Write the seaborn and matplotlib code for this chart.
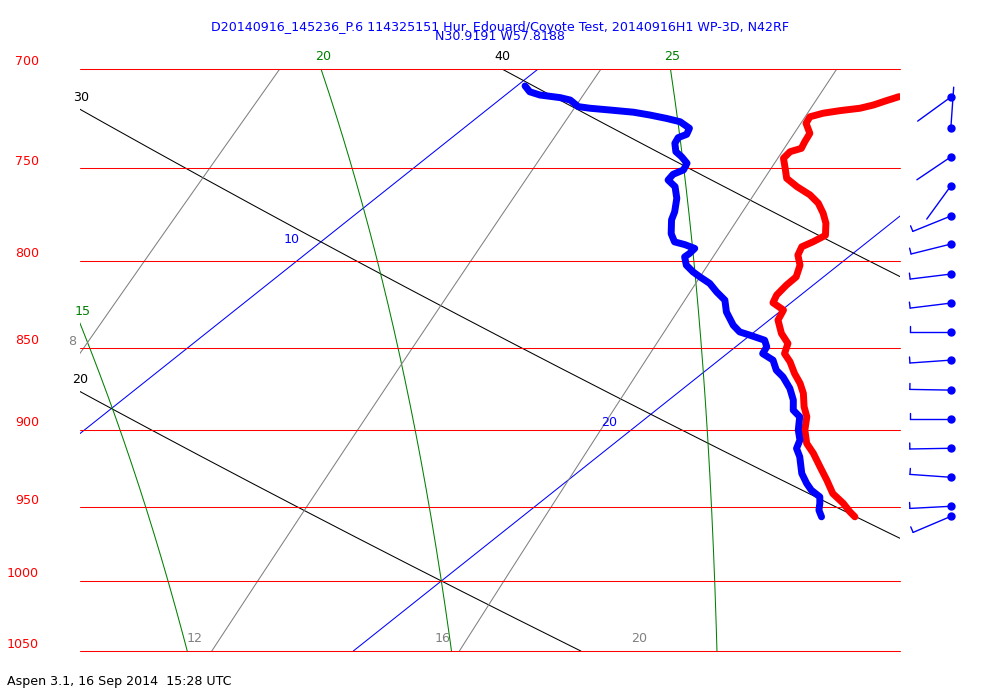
import numpy as np
import pandas as pd
import matplotlib
matplotlib.use("Agg")
import matplotlib.pyplot as plt
from matplotlib.transforms import IdentityTransform
import seaborn as sns

TITLE = "D20140916_145236_P.6 114325151 Hur. Edouard/Coyote Test, 20140916H1 WP-3D, N42RF"
SUBTITLE = "N30.9191 W57.8188"
FOOTER = "Aspen 3.1, 16 Sep 2014  15:28 UTC"

# temperature trace (red): pressure hPa, deg C
temp_p = [713.6, 715.6, 717.8, 719.4, 720.6, 721.9, 723.7, 727.0, 732.1, 736.4,
          739.8, 741.5, 744.9, 750.1, 755.4, 759.8, 764.2, 768.6, 774.0, 779.4,
          786.0, 789.6, 792.3, 796.9, 802.5, 809.1, 813.7, 819.4, 823.8, 828.0,
          833.8, 841.6, 847.5, 853.5, 858.4, 865.4, 871.4, 877.5, 885.7, 891.9,
          900.2, 908.6, 914.9, 923.5, 932.1, 940.9, 947.4, 952.9, 956.3]
temp_c = [17.24, 17.10, 16.96, 16.79, 16.48, 16.23, 16.07, 16.15, 16.45, 16.55,
          16.64, 16.51, 16.54, 16.80, 17.06, 17.44, 17.87, 18.21, 18.53, 18.81,
          19.08, 19.00, 18.91, 19.03, 19.30, 19.50, 19.51, 19.56, 19.67, 20.03,
          20.16, 20.53, 20.88, 21.05, 21.34, 21.69, 22.02, 22.31, 22.63, 22.91,
          23.18, 23.52, 23.87, 24.30, 24.73, 25.15, 25.57, 25.88, 26.09]

# dewpoint trace (blue)
dewp_p = [708.3, 711.2, 712.8, 714.1, 715.3, 718.6, 719.4, 720.3, 721.4, 722.8,
          724.5, 726.2, 729.5, 732.6, 734.3, 737.2, 741.5, 744.1, 747.5, 751.0,
          753.3, 756.3, 759.8, 766.0, 773.2, 777.6, 785.1, 789.6, 791.1, 793.2,
          796.0, 797.9, 802.5, 806.3, 809.1, 812.8, 817.6, 822.3, 829.1, 836.8,
          840.7, 842.6, 845.6, 849.5, 853.5, 857.4, 863.4, 867.5, 874.5, 881.6,
          887.8, 891.9, 900.2, 906.5, 911.8, 917.1, 927.8, 934.3, 938.7, 943.1,
          947.4, 951.9, 956.3]
dewp_c = [10.15, 10.37, 10.63, 11.06, 11.30, 11.60, 11.85, 12.26, 12.74, 13.10,
          13.48, 13.81, 14.13, 14.22, 14.14, 14.21, 14.42, 14.64, 14.89, 14.98,
          14.89, 14.93, 15.21, 15.51, 15.78, 15.91, 16.22, 16.47, 16.72, 16.99,
          17.01, 17.00, 17.22, 17.50, 17.74, 18.07, 18.39, 18.73, 19.03, 19.46,
          19.73, 19.99, 20.38, 20.57, 20.65, 20.99, 21.28, 21.56, 21.95, 22.28,
          22.51, 22.78, 23.06, 23.32, 23.45, 23.70, 24.12, 24.44, 24.68, 24.99,
          25.14, 25.28, 25.48]

# winds
wind_p = [713.8, 729.4, 744.2, 759.4, 775.5, 790.8, 807.5, 824.0, 840.8, 857.4,
          875.5, 893.4, 911.7, 930.3, 949.3, 956.0]
wind_dir = [234, 4, 236, 216, 248, 256, 263, 263, 270, 266, 271, 270, 269, 274, 267, 247]
wind_kt = [2, 2, 2, 2, 5, 5, 5, 5, 5, 5, 5, 5, 5, 5, 5, 5]

# background lines
isobars = [700, 750, 800, 850, 900, 950, 1000, 1050]
isotherms = [10, 20]
dry_adiabats = [20, 30, 40]
moist_adiabats = [15, 20, 25]
mixing_lines = [8, 12, 16]
mixing_labels = [8, 12, 16, 20]

P_TOP, P_BOT = 700, 1050
X_MIN, X_MAX = 15, 30
SKEW = 33.0
KAPPA = 0.2889
RD = 287.04
CP = RD / KAPPA
LV = 2.458e6
FS = 9.1


def skew_x(t, p):
    return np.asarray(t) + SKEW * np.log(P_BOT / np.asarray(p))


def moist_adiabat(thw, p):
    """pseudo-adiabat through thw (C) at 1000 hPa, RK4 in pressure"""
    def dtdp(t, pp):
        es = 6.112 * np.exp(17.67 * (t - 273.15) / (t - 29.65))
        rs = 0.622 * es / (pp - es)
        return (RD * t + LV * rs) / (pp * (CP + LV ** 2 * rs * 0.622 / (RD * t * t)))

    def run(grid):
        out = [thw + 273.15]
        for a, b in zip(grid[:-1], grid[1:]):
            h = b - a
            t = out[-1]
            k1 = dtdp(t, a)
            k2 = dtdp(t + h * k1 / 2, a + h / 2)
            k3 = dtdp(t + h * k2 / 2, a + h / 2)
            k4 = dtdp(t + h * k3, b)
            out.append(t + h * (k1 + 2 * k2 + 2 * k3 + k4) / 6)
        return np.array(out)

    up = np.linspace(1000, 690, 311)
    down = np.linspace(1000, 1060, 61)
    pp = np.concatenate([up[::-1], down[1:]])
    tt = np.concatenate([run(up)[::-1], run(down)[1:]])
    return np.interp(p, pp, tt) - 273.15


def mixing_td(w, p):
    e = w / 1000 * p / (0.622 + w / 1000)
    a = np.log(e / 6.112)
    return 243.5 * a / (17.67 - a)


sns.set_theme(style="white")
plt.rcParams["font.family"] = ["DejaVu Sans"]

fig = plt.figure(figsize=(10, 7), dpi=100)
ax = fig.add_axes([0.08, 0.07, 0.82, 0.83143])
ax.set_yscale("log")
ax.set_xlim(X_MIN, X_MAX)
ax.set_ylim(P_BOT, P_TOP)
ax.set_axis_off()

pg = np.geomspace(P_TOP, P_BOT, 600)
lw_bg = 0.75


def visible(x):
    return np.where((x >= X_MIN) & (x <= X_MAX))[0]


def label(text, x, p, dx, dy, color):
    ax.annotate(text, xy=(x, p), xytext=(dx, dy), textcoords="offset pixels",
                ha="center", va="center", color=color, fontsize=FS,
                annotation_clip=False)


# isobars
for p in isobars:
    ax.plot([X_MIN, X_MAX], [p, p], color="red", lw=lw_bg, zorder=2, clip_on=False)
    ax.annotate(str(p), xy=(-0.05, p), xycoords=ax.get_yaxis_transform(),
                xytext=(0, 7), textcoords="offset pixels", ha="right",
                va="center", color="red", fontsize=FS)

# isotherms
for t in isotherms:
    x = skew_x(np.full_like(pg, t), pg)
    ax.plot(x, pg, color="blue", lw=lw_bg, zorder=1)
    idx = visible(x)
    if len(idx):
        m = idx[len(idx) // 2]
        label(str(t), x[m], pg[m], -17, 12, "blue")

# dry adiabats
for th in dry_adiabats:
    t = (th + 273.15) * (pg / 1000) ** KAPPA - 273.15
    x = skew_x(t, pg)
    ax.plot(x, pg, color="black", lw=lw_bg, zorder=1)
    idx = visible(x)
    if len(idx):
        label(str(th), x[idx[0]], pg[idx[0]], 0, 12, "black")

# moist adiabats
for thw in moist_adiabats:
    x = skew_x(moist_adiabat(thw, pg), pg)
    ax.plot(x, pg, color="green", lw=lw_bg, zorder=1)
    idx = visible(x)
    if len(idx):
        label(str(thw), x[idx[0]], pg[idx[0]], 2, 12, "green")

# mixing ratio lines
for w in mixing_labels:
    x = skew_x(mixing_td(w, pg), pg)
    if w in mixing_lines:
        ax.plot(x, pg, color="gray", lw=lw_bg, zorder=1)
    idx = visible(x)
    if len(idx):
        i = idx[-1]
        if i == len(pg) - 1:
            label(str(w), x[i], pg[i], -17, 13, "gray")
        else:
            label(str(w), x[i], pg[i], -8, 11, "gray")

# sounding traces
df_t = pd.DataFrame({"x": skew_x(temp_c, temp_p), "p": temp_p})
df_d = pd.DataFrame({"x": skew_x(dewp_c, dewp_p), "p": dewp_p})
for df, col in [(df_t, "red"), (df_d, "blue")]:
    sns.lineplot(data=df, x="x", y="p", sort=False, estimator=None, color=col,
                 lw=5, ax=ax, zorder=5, solid_capstyle="round",
                 solid_joinstyle="round")
ax.set_xlim(X_MIN, X_MAX)
ax.set_ylim(P_BOT, P_TOP)
ax.autoscale(False)

# wind barbs, drawn in pixels beside the diagram
BARB_X = 1.062
STAFF = 41
trans = ax.get_yaxis_transform()
for p, d, s in zip(wind_p, wind_dir, wind_kt):
    x0, y0 = trans.transform((BARB_X, p))
    ux, uy = np.sin(np.radians(d)), np.cos(np.radians(d))
    x1, y1 = x0 + STAFF * ux, y0 + STAFF * uy
    ax.plot([x0, x1], [y0, y1], color="blue", lw=1.0,
            transform=IdentityTransform(), clip_on=False)
    n_half = int(round(s / 5))
    pos = 0
    for _ in range(n_half // 2):
        bx, by = x1 - pos * ux, y1 - pos * uy
        ax.plot([bx, bx + 12 * uy], [by, by - 12 * ux], color="blue", lw=1.0,
                transform=IdentityTransform(), clip_on=False)
        pos += 4
    if n_half % 2:
        bx, by = x1 - pos * ux, y1 - pos * uy
        ax.plot([bx, bx + 6 * uy], [by, by - 6 * ux], color="blue", lw=1.0,
                transform=IdentityTransform(), clip_on=False)
ax.plot([BARB_X] * len(wind_p), wind_p, "o", ms=5, color="blue",
        transform=trans, clip_on=False, zorder=6)

fig.text(0.5, 1 - 27 / 700, TITLE, ha="center", va="center", color="blue", fontsize=FS)
fig.text(0.5, 1 - 37 / 700, SUBTITLE, ha="center", va="center", color="blue", fontsize=FS)
fig.text(0.007, 1 - 681 / 700, FOOTER, ha="left", va="center", color="black", fontsize=FS)

fig.savefig("out.png", dpi=100, facecolor="white")
